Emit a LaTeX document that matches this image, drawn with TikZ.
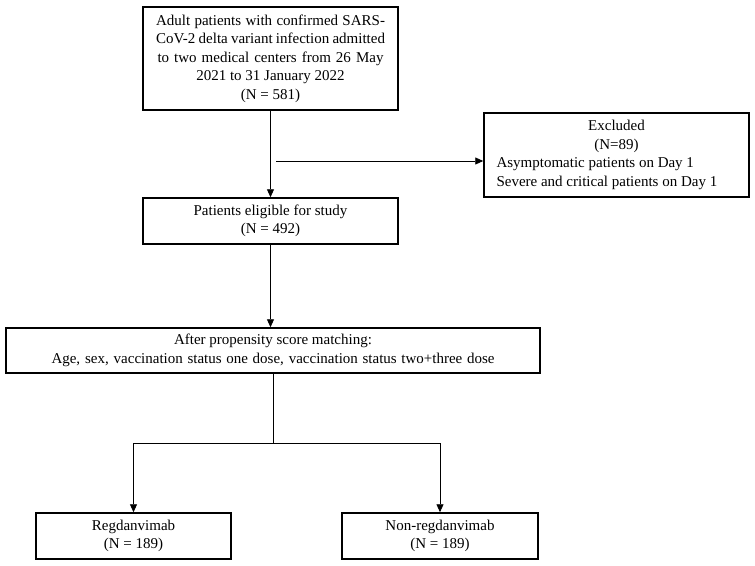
\documentclass[tikz,border=0pt]{standalone}
\usepackage{fontspec}
\setmainfont{Liberation Serif}
\usetikzlibrary{arrows.meta}
\begin{document}
\begin{tikzpicture}[x=1pt,y=-1pt,
  box/.style={draw=black,line width=1.5pt,inner sep=0pt,align=center,
    font=\fontsize{15}{18.5}\selectfont},
  conn/.style={draw=black,line width=0.9pt},
  arr/.style={conn,-{Triangle[length=8pt,width=7pt]}}]
\useasboundingbox (0,0) rectangle (755,565);
\node[box,minimum width=255pt,minimum height=103pt] (top) at (270.5,58.5)
  {\makebox[229pt][s]{Adult patients with confirmed SARS-}\\
   \makebox[229pt][s]{CoV-2 delta variant infection admitted}\\
   \makebox[226pt][s]{to two medical centers from 26 May}\\
   2021 to 31 January 2022\\
   (N = 581)};
\node[box,minimum width=265pt,minimum height=84pt] (excl) at (616.5,155)
  {Excluded\\(N=89)\\
   \makebox[240pt][l]{Asymptomatic patients on Day 1}\\
   \makebox[240pt][l]{Severe and critical patients on Day 1}};
\node[box,minimum width=255pt,minimum height=46pt] (elig) at (270.5,221)
  {Patients eligible for study\\(N = 492)};
\node[box,minimum width=534pt,minimum height=45pt] (match) at (273,350.5)
  {After propensity score matching:\\
   \makebox[443pt][s]{Age, sex, vaccination status one dose, vaccination status two+three dose}};
\node[box,minimum width=195pt,minimum height=46pt] (reg) at (133.5,536)
  {Regdanvimab\\(N = 189)};
\node[box,minimum width=196pt,minimum height=46pt] (nonreg) at (440,536)
  {Non-regdanvimab\\(N = 189)};
\coordinate (ex0) at (276,161);
\coordinate (split) at (273,443);
\draw[arr] (top) -- (elig);
\draw[arr] (ex0) -- (ex0 -| excl.west);
\draw[arr] (elig.south) -- (elig.south |- match.north);
\draw[conn] (match.south) -- (split);
\draw[arr] (split) -| (reg.north);
\draw[arr] (split) -| (nonreg.north);
\end{tikzpicture}
\end{document}
